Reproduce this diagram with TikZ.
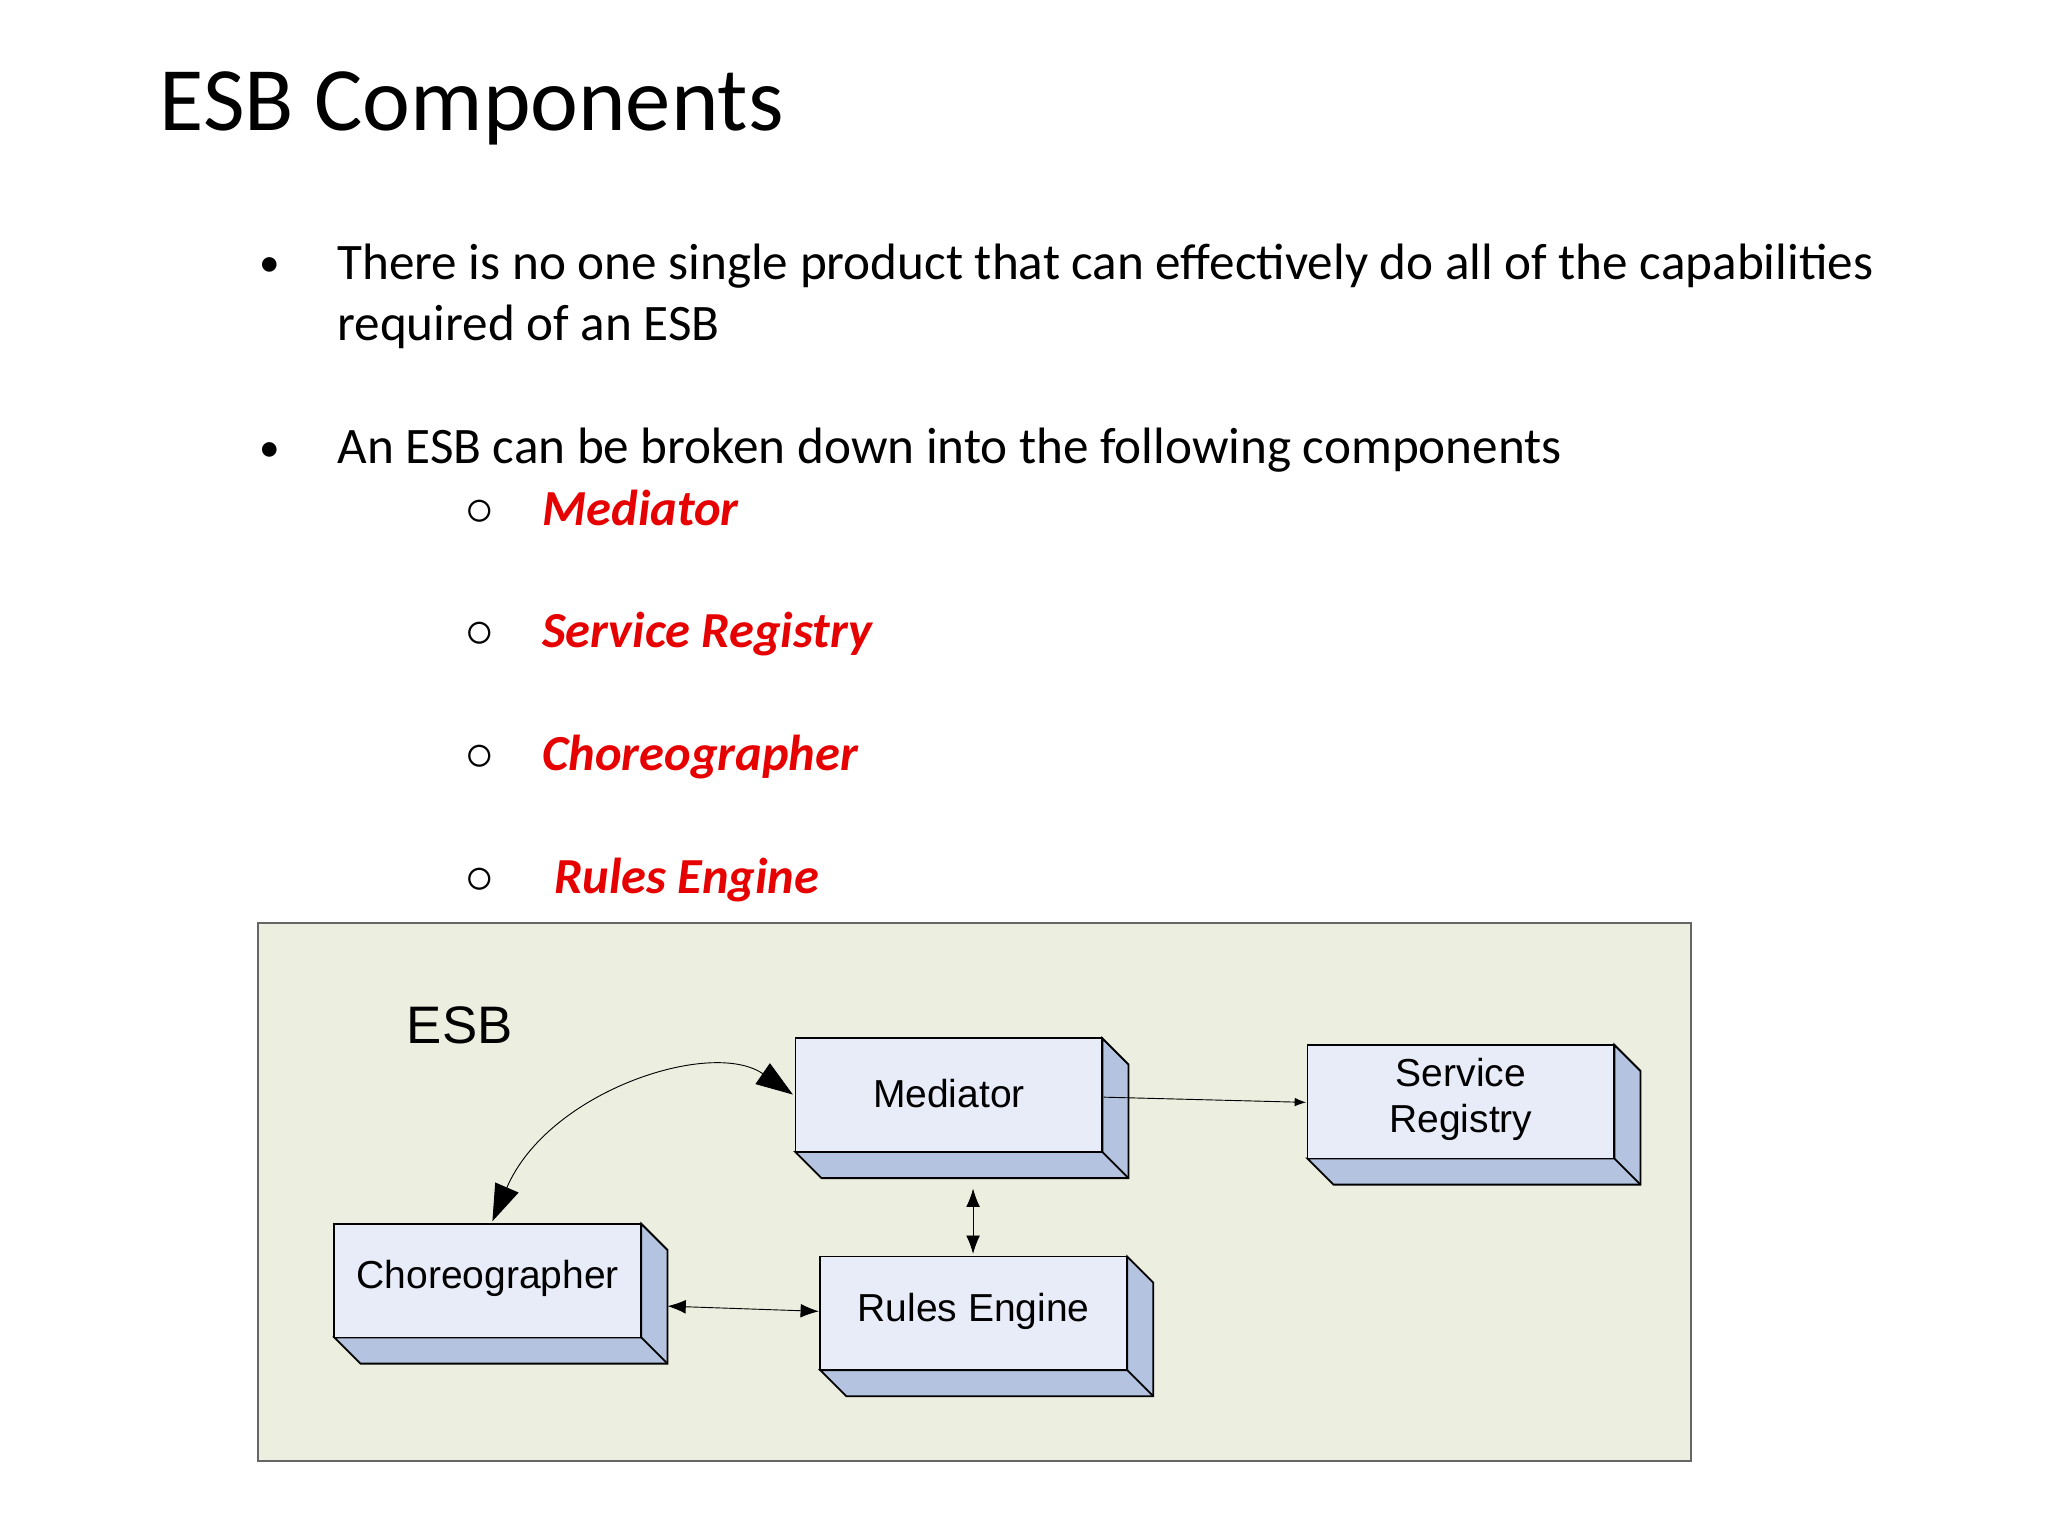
\documentclass[tikz,border=0pt]{standalone}
\usepackage{fontspec}
\setmainfont{Carlito}
\newfontfamily\diagfont{Liberation Sans}
\usepackage{tikz}
\usetikzlibrary{arrows.meta, calc}
\definecolor{esb-bg}{RGB}{236,238,223}
\definecolor{box-front}{RGB}{232,236,248}
\definecolor{box-side}{RGB}{180,196,224}
\definecolor{item-red}{RGB}{230,0,0}
\tikzset{
    txt/.style = {anchor=base west, inner sep=0pt, font=\fontsize{22.3}{27}\selectfont},
    item/.style = {txt, text=item-red, font=\fontsize{22}{27}\selectfont\bfseries\itshape},
    pics/block/.style 2 args = {
        code = {%
        \coordinate (-nw) at (0,0);
        \coordinate (-se) at (235,87);
        \fill[box-side, draw=black, thick] (0,87) -- (20,107) -- (255,107) -- (255,20) -- (235,0) -- (235,87) -- cycle;
        \draw[thick] (235,87) -- (255,107);
        \fill[box-front, draw=black, thick] (-nw) rectangle (-se);
        \node[align=center, font=\diagfont\fontsize{17}{20}\selectfont] at (117.5,#2) {#1};
        }
    },
}
\begin{document}
\begin{tikzpicture}[x=0.02cm, y=-0.02cm]
\useasboundingbox (0,0) rectangle (1568,1176);

\node[txt, font=\fontsize{39.5}{45}\selectfont] (title) at (122,100) {ESB Components};

\node[txt, font=\fontsize{18}{22}\selectfont] (b1) at (198,212) {\textbullet};
\node[txt] (l1) at (258,214) {There is no one single product that can effectively do all of the capabilities};
\node[txt] (l2) at (258,261) {required of an ESB};
\node[txt, font=\fontsize{18}{22}\selectfont] (b2) at (198,353) {\textbullet};
\node[txt] (l3) at (258,355) {An ESB can be broken down into the following components};

\foreach \name/\y/\dx in {Mediator/402/0, Service Registry/496/0, Choreographer/590/0, Rules Engine/684/9} {
    \node[txt, font=\fontsize{24}{28}\selectfont] at (356,\y) {$\circ$};
    \node[item] at (415+\dx,\y) {\name};
}

% diagram frame
\node[draw=black!60, thick, fill=esb-bg, minimum width=1097*0.02cm, minimum height=412*0.02cm, anchor=north west, inner sep=0pt] (frame) at (197,706) {};
\node[font=\diagfont\fontsize{23}{27}\selectfont] (esb) at (352,785) {ESB};

\pic (med) at (609,795) {block={Mediator}{42}};
\pic (reg) at (1001,800) {block={Service\\Registry}{42}};
\pic (cho) at (256,937) {block={Choreographer}{42}};
\pic (rul) at (628,962) {block={Rules Engine}{42}};

\coordinate (med-w) at (607,838);
\coordinate (cho-n) at (377,935);
\coordinate (med-e) at (845,840);
\coordinate (reg-w) at (1000,844);
\coordinate (med-s) at (745,910);
\coordinate (rul-n) at (745,960);
\coordinate (cho-e) at (511,1000);
\coordinate (rul-w) at (627,1004);

\draw[{Triangle[length=16pt,width=11pt]}-{Triangle[length=16pt,width=11pt]}] (cho-n) .. controls (420,835) and (545,795) .. (med-w);
\draw[-{Latex[length=5pt]}] (med-e) -- (reg-w);
\draw[{Latex[length=8pt]}-{Latex[length=8pt]}] (med-s) -- (rul-n);
\draw[{Latex[length=8pt]}-{Latex[length=8pt]}] (cho-e) -- (rul-w);
\end{tikzpicture}
\end{document}
